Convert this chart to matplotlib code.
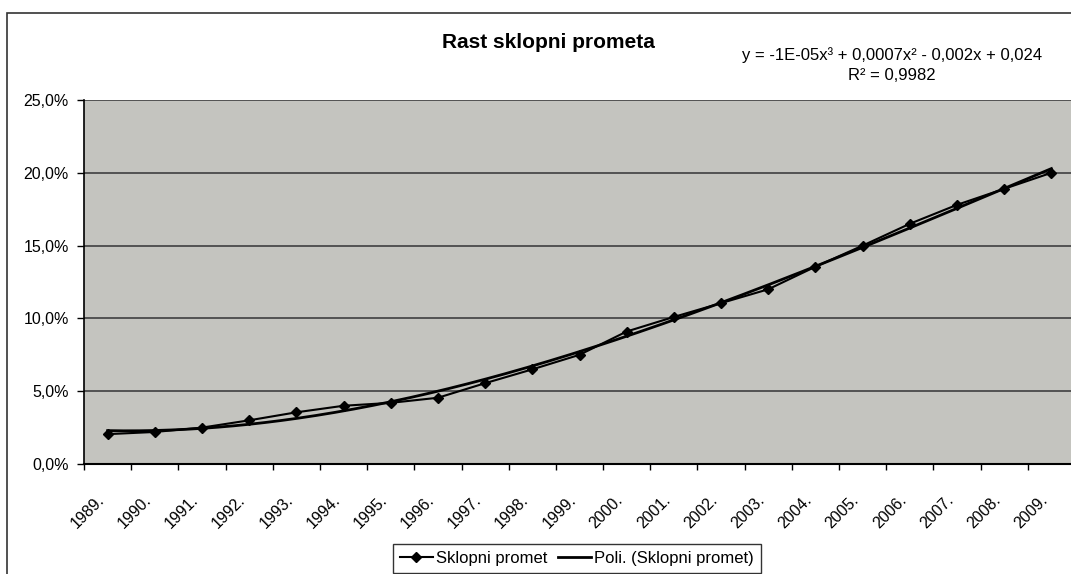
import numpy as np
import matplotlib
matplotlib.use('Agg')
import matplotlib.pyplot as plt
from matplotlib.patches import Rectangle
from matplotlib.ticker import FuncFormatter
from matplotlib.transforms import ScaledTranslation

plt.rcParams['font.family'] = ['Liberation Sans', 'DejaVu Sans']

# data
years = ['1989.', '1990.', '1991.', '1992.', '1993.', '1994.', '1995.', '1996.',
         '1997.', '1998.', '1999.', '2000.', '2001.', '2002.', '2003.', '2004.',
         '2005.', '2006.', '2007.', '2008.', '2009.']
promet = [2.05, 2.2, 2.5, 3.0, 3.55, 4.0, 4.2, 4.55, 5.55, 6.5, 7.5,
          9.1, 10.1, 11.05, 12.0, 13.55, 15.0, 16.5, 17.8, 18.9, 20.0]
y_ticks = [0, 5, 10, 15, 20, 25]

title = 'Rast sklopni prometa'
eq_text = 'y = -1E-05x³ + 0,0007x² - 0,002x + 0,024\nR² = 0,9982'

fig = plt.figure(figsize=(10.71, 5.74), dpi=100)
fig.patch.set_facecolor('white')

# outer chart border (right/bottom edges fall outside the image)
fig.patches.append(Rectangle((7 / 1071, -0.1), 1.2, (574 - 13) / 574 + 0.1,
                             transform=fig.transFigure, fill=False,
                             edgecolor='#333333', linewidth=1.2))

ax = fig.add_axes([84 / 1071, 110 / 574, 991 / 1071, 364 / 574])
ax.set_facecolor('#c4c4bf')

x = np.arange(len(years))
xs = x + 1

# polynomial trendline (3rd order) like Excel
coef = np.polyfit(xs, promet, 3)
xf = np.linspace(xs[0], xs[-1], 300)
yf = np.polyval(coef, xf)

ax.plot(xf - 1, yf, color='black', linewidth=2.0, label='Poli. (Sklopni promet)', zorder=3)
ax.plot(x, promet, color='black', linewidth=1.5, marker='D', markersize=5,
        label='Sklopni promet', zorder=4)

ax.set_xlim(-0.5, len(years) - 0.5)
ax.set_ylim(0, 25)
ax.set_yticks(y_ticks)
ax.yaxis.set_major_formatter(FuncFormatter(lambda v, p: f'{v:.1f}%'.replace('.', ',')))
ax.yaxis.grid(True, color='#4a4a4a', linewidth=1.3)
ax.set_axisbelow(True)

ax.set_xticks(np.arange(-0.5, len(years)), minor=False)
ax.set_xticklabels([])
ax.set_xticks(x, minor=True)
ax.set_xticklabels(years, minor=True, rotation=45, ha='right', va='center',
                   rotation_mode='anchor', fontsize=11.5)
ax.tick_params(axis='x', which='minor', length=0, pad=24)
ax.tick_params(axis='x', which='major', length=4, width=1, direction='out')
ax.tick_params(axis='y', length=5, width=1, direction='out', labelsize=11.5, pad=6)
shift = ScaledTranslation(-6 / 100, 0, fig.dpi_scale_trans)
for lab in ax.get_xticklabels(minor=True):
    lab.set_transform(lab.get_transform() + shift)

for s in ['top', 'right']:
    ax.spines[s].set_visible(False)
ax.spines['left'].set_linewidth(1.2)
ax.spines['bottom'].set_linewidth(1.5)

fig.text(548 / 1071, 1 - 42 / 574, title, ha='center', va='center',
         fontsize=15, fontweight='bold')
fig.text(892 / 1071, 1 - 65 / 574, eq_text, ha='center', va='center',
         fontsize=12, linespacing=1.45)

handles, labels = ax.get_legend_handles_labels()
leg = fig.legend(handles[::-1], labels[::-1], loc='upper center',
                 bbox_to_anchor=(577 / 1071, 38 / 574), ncol=2, fontsize=12,
                 frameon=True, fancybox=False, edgecolor='black',
                 handlelength=2.0, columnspacing=0.6, handletextpad=0.2,
                 borderpad=0.4)
leg.get_frame().set_linewidth(1.0)

fig.savefig('out.png', dpi=100)
